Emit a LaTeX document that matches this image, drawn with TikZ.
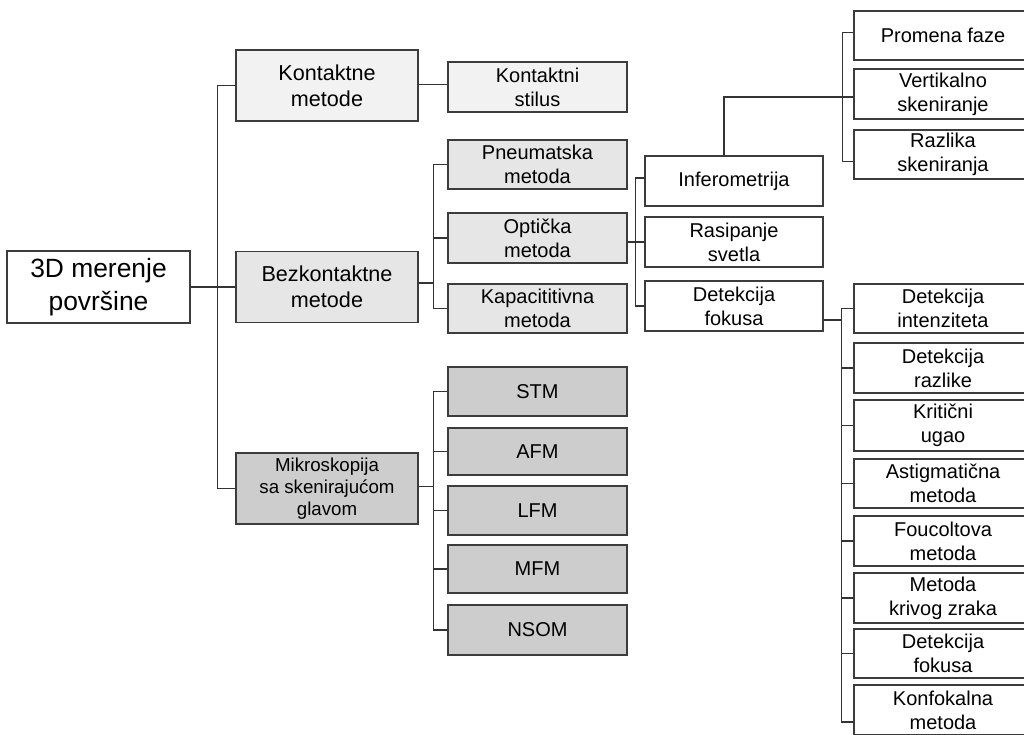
\documentclass[tikz,border=0pt]{standalone}
\usepackage{fontspec}
\setmainfont{Liberation Sans}
\usetikzlibrary{calc}
\definecolor{boxline}{HTML}{3C3C3C}
\definecolor{wire}{HTML}{333333}
\definecolor{fillA}{HTML}{F2F2F2}
\definecolor{fillB}{HTML}{E6E6E6}
\definecolor{fillC}{HTML}{CDCDCD}
\tikzset{
  box/.style={rectangle, draw=boxline, line width=1.2pt, inner sep=0pt,
    align=center, minimum width=179pt, minimum height=50pt,
    font=\fontsize{20}{24}\selectfont},
  rootbox/.style={box, fill=white, minimum width=183pt, minimum height=72pt,
    font=\fontsize{26.4}{33}\selectfont},
  topbox/.style={box, minimum width=182pt, minimum height=71pt,
    font=\fontsize{21.6}{26}\selectfont},
  wirestyle/.style={draw=wire, line width=1.1pt}
}
\begin{document}
\begin{tikzpicture}[x=1pt, y=-1pt]
\useasboundingbox (0,0) rectangle (1024,735);
\clip (0,0) rectangle (1024,735);
\fill[white] (0,0) rectangle (1024,735);

% root and first level
\node[rootbox] (root) at (98.5,287) {3D merenje\\površine};
\node[topbox, fill=fillA] (kon) at (327,85.5) {Kontaktne\\metode};
\node[topbox, fill=fillB] (bez) at (327,287) {Bezkontaktne\\metode};
\node[topbox, fill=fillC, font=\fontsize{18.7}{22}\selectfont] (mik) at (327,488.5) {Mikroskopija\\sa skenirajućom\\glavom};

% second level
\node[box, fill=fillA] (stil) at (537.5,87) {Kontaktni\\stilus};
\node[box, fill=fillB, minimum height=49pt] (pne) at (537.5,164.5) {Pneumatska\\metoda};
\node[box, fill=fillB] (opt) at (537.5,238) {Optička\\metoda};
\node[box, fill=fillB, minimum height=49pt] (kap) at (537.5,308.5) {Kapacititivna\\metoda};

\node[box, fill=fillC, minimum height=49pt] (stm) at (537.5,391.5) {STM};
\node[box, fill=fillC, minimum height=47pt] (afm) at (537.5,451.5) {AFM};
\node[box, fill=fillC, minimum height=49pt] (lfm) at (537.5,510.5) {LFM};
\node[box, fill=fillC, minimum height=48pt] (mfm) at (537.5,569) {MFM};
\node[box, fill=fillC] (nsom) at (537.5,630) {NSOM};

% optical methods
\node[box, fill=white, minimum width=178pt] (inf) at (734,181) {Inferometrija};
\node[box, fill=white, minimum width=178pt] (ras) at (734,242) {Rasipanje\\svetla};
\node[box, fill=white, minimum width=178pt] (det) at (734,306) {Detekcija\\fokusa};

% interferometry methods
\node[box, fill=white, minimum width=178pt, minimum height=49pt] (pro) at (943,35.5) {Promena faze};
\node[box, fill=white, minimum width=178pt] (ver) at (943,94) {Vertikalno\\skeniranje};
\node[box, fill=white, minimum width=178pt, minimum height=49pt] (raz) at (943,154.5) {Razlika\\skeniranja};

% focus detection methods
\node[box, fill=white, minimum width=178pt, minimum height=49pt] (d1) at (943,308.5) {Detekcija\\intenziteta};
\node[box, fill=white, minimum width=178pt] (d2) at (943,368) {Detekcija\\razlike};
\node[box, fill=white, minimum width=178pt, minimum height=51pt] (d3) at (943,425.5) {Kritični\\ugao};
\node[box, fill=white, minimum width=178pt, minimum height=49pt] (d4) at (943,483.5) {Astigmatična\\metoda};
\node[box, fill=white, minimum width=178pt] (d5) at (943,541) {Foucoltova\\metoda};
\node[box, fill=white, minimum width=178pt] (d6) at (943,598) {Metoda\\krivog zraka};
\node[box, fill=white, minimum width=178pt, minimum height=49pt] (d7) at (943,653.5) {Detekcija\\fokusa};
\node[box, fill=white, minimum width=178pt] (d8) at (943,710) {Konfokalna\\metoda};

% attachment points that sit off the box centres
\coordinate (konOut) at ([yshift=1pt]kon.east);
\coordinate (razIn) at ([yshift=-7pt]raz.west);
\coordinate (d8In) at ([yshift=-12pt]d8.west);
\coordinate (detOut) at ([yshift=-14pt]det.east);
\coordinate (bezOut) at ([yshift=4pt]bez.east);
\coordinate (optOut) at ([yshift=-4pt]opt.east);
\coordinate (infIn) at ([yshift=3pt]inf.west);
\coordinate (infUp) at ([xshift=-10pt]inf.north);
\coordinate (verIn) at ([yshift=-3pt]ver.west);
\coordinate (proIn) at ([yshift=3pt]pro.west);
\coordinate (mikOut) at ([yshift=2pt]mik.east);

% connectors: root
\draw[wirestyle] (root.east) -- (bez.west);
\draw[wirestyle] (kon.west) -- ++(-18,0) coordinate (t1) -- (t1 |- mik.west) -- (mik.west);

% connectors: contact
\draw[wirestyle] (konOut) -- (konOut -| stil.west);

% connectors: non-contact
\draw[wirestyle] (pne.west) -- ++(-14,0) coordinate (t2) -- (t2 |- kap.west) -- (kap.west);
\draw[wirestyle] (opt.west) -- (opt.west -| t2);
\draw[wirestyle] (bezOut) -- (bezOut -| t2);

% connectors: optical
\draw[wirestyle] (infIn) -- ++(-9,0) coordinate (t3) -- (t3 |- det.west) -- (det.west);
\draw[wirestyle] (ras.west) -- (ras.west -| t3);
\draw[wirestyle] (optOut) -- (optOut -| t3);

% connectors: interferometry
\draw[wirestyle] (infUp) |- (verIn);
\draw[wirestyle] (proIn) -- ++(-11,0) coordinate (t4) -- (t4 |- razIn) -- (razIn);

% connectors: focus detection
\draw[wirestyle] (d1.west) -- ++(-12,0) coordinate (t5) -- (t5 |- d8In) -- (d8In);
\draw[wirestyle] (detOut) -- (detOut -| t5);
\foreach \n in {d2,d3,d4,d5,d6,d7}
  \draw[wirestyle] (\n.west) -- (\n.west -| t5);

% connectors: scanning probe microscopy
\draw[wirestyle] (stm.west) -- ++(-14,0) coordinate (t6) -- (t6 |- nsom.west) -- (nsom.west);
\draw[wirestyle] (mikOut) -- (mikOut -| t6);
\foreach \n in {afm,lfm,mfm}
  \draw[wirestyle] (\n.west) -- (\n.west -| t6);
\end{tikzpicture}
\end{document}
